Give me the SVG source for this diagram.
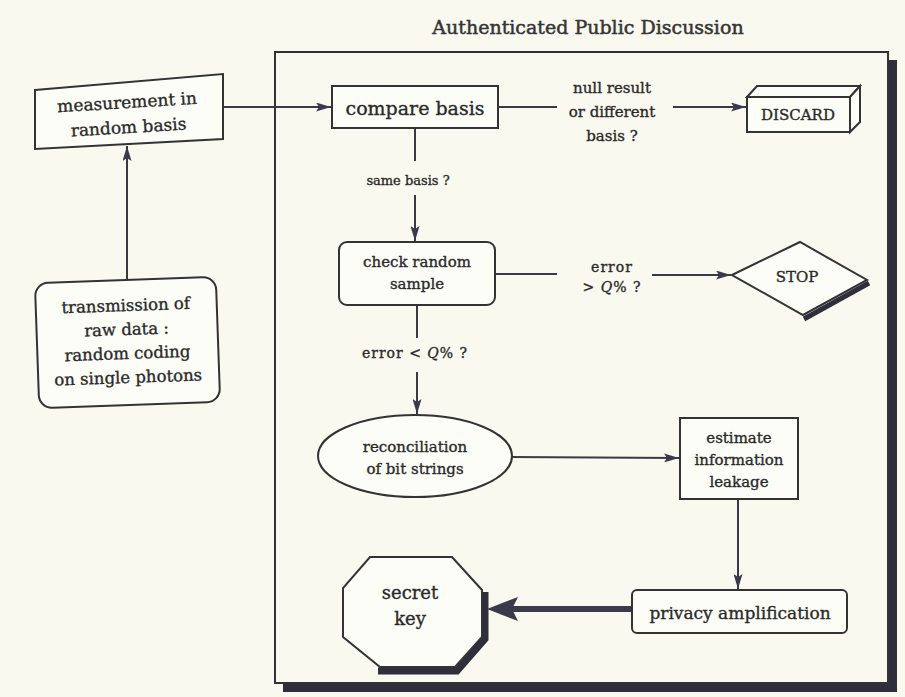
<svg xmlns="http://www.w3.org/2000/svg" width="905" height="697" viewBox="0 0 905 697">
  <defs>
    <marker id="arr" markerUnits="userSpaceOnUse" markerWidth="15" markerHeight="9" refX="15" refY="4.5" orient="auto">
      <path d="M0,0 L15,4.5 L0,9 L3,4.5 z" fill="#3a3a4c"/>
    </marker>
    <style>
      .bg { fill: #f9f9f0; }
      .box { fill: #fdfdf8; stroke: #333; stroke-width: 2; }
      .edge { fill: none; stroke: #3a3a42; stroke-width: 2; }
      .shadow { fill: none; stroke: #2e2e3c; }
      text { font-family: "DejaVu Serif", "Liberation Serif", serif; fill: #2a2a2a; stroke: #2a2a2a; stroke-width: 0.35; text-anchor: middle; }
      .lbl { font-size: 14px; }
      .n15 { font-size: 15px; }
      .n17 { font-size: 17px; }
    </style>
  </defs>

  <rect class="bg" x="0" y="0" width="905" height="697"/>

  <g id="frame">
    <rect x="283" y="60" width="614" height="632" fill="#2e2e3c"/>
    <rect x="275" y="52" width="613" height="631" fill="#f9f9f0" stroke="#333" stroke-width="2"/>
    <text x="588" y="34" style="font-size:19px; fill:#353535; stroke:#353535; stroke-width:0.5;">Authenticated Public Discussion</text>
  </g>

  <g id="connectors">
    <line class="edge" x1="127" y1="279" x2="127" y2="146" marker-end="url(#arr)"/>
    <line class="edge" x1="223" y1="107" x2="331" y2="107" marker-end="url(#arr)"/>
    <line class="edge" x1="498" y1="107" x2="557" y2="107"/>
    <line class="edge" x1="673" y1="107" x2="746" y2="107" marker-end="url(#arr)"/>
    <text class="lbl" x="612" y="93" style="font-size:15px;">null result</text>
    <text class="lbl" x="612" y="117" style="font-size:15px;">or different</text>
    <text class="lbl" x="612" y="141" style="font-size:15px;">basis ?</text>
    <line class="edge" x1="415" y1="128" x2="415" y2="161"/>
    <text class="lbl" x="408" y="185" style="font-size:13px;">same basis ?</text>
    <line class="edge" x1="415" y1="195" x2="415" y2="241" marker-end="url(#arr)"/>
    <line class="edge" x1="495" y1="274" x2="557" y2="274"/>
    <text class="lbl" x="612" y="272" letter-spacing="1">error</text>
    <text class="lbl" x="612" y="292" letter-spacing="1">&gt; <tspan font-style="italic">Q</tspan>% ?</text>
    <line class="edge" x1="652" y1="275" x2="731" y2="275" marker-end="url(#arr)"/>
    <line class="edge" x1="417" y1="305" x2="417" y2="338"/>
    <text class="lbl" x="415" y="358" letter-spacing="1">error &lt; <tspan font-style="italic">Q</tspan>% ?</text>
    <line class="edge" x1="417" y1="372" x2="417" y2="414" marker-end="url(#arr)"/>
    <line class="edge" x1="512" y1="457" x2="679" y2="458" marker-end="url(#arr)"/>
    <line class="edge" x1="738" y1="499" x2="738" y2="589" marker-end="url(#arr)"/>
    <line x1="632" y1="609" x2="510" y2="609" stroke="#3a3a4c" stroke-width="6"/>
    <polygon points="487,609 518,597 512,609 518,621" fill="#3a3a4c"/>
  </g>

  <g id="measurement">
    <polygon class="box" points="35,90 223,74 223,139 35,149"/>
    <g transform="rotate(-3.5 129 118)">
      <text class="n17" x="128" y="108">measurement in</text>
      <text class="n17" x="128" y="133">random basis</text>
    </g>
  </g>

  <g id="transmission" transform="rotate(-2 127 342)">
    <rect class="box" x="37" y="280" width="181" height="125" rx="13"/>
    <text x="127" y="311" style="font-size:16.5px;">transmission of</text>
    <text x="127" y="335" style="font-size:16.5px;">raw data :</text>
    <text x="127" y="359" style="font-size:16.5px;">random coding</text>
    <text x="127" y="383" style="font-size:16.5px;">on single photons</text>
  </g>

  <g id="compare">
    <rect class="box" x="332" y="86" width="166" height="42"/>
    <text x="415" y="115" style="font-size:19px;">compare basis</text>
  </g>

  <g id="discard">
    <polygon class="box" points="747,97 757,86 860,86 850,97"/>
    <polygon class="box" points="850,97 860,86 860,122 850,132"/>
    <rect class="box" x="747" y="97" width="103" height="35"/>
    <text x="798" y="120" style="font-size:15px;">DISCARD</text>
  </g>

  <g id="check">
    <rect class="box" x="339" y="242" width="156" height="63" rx="8"/>
    <text class="n15" x="417" y="267">check random</text>
    <text class="n15" x="417" y="289">sample</text>
  </g>

  <g id="stop">
    <polyline class="shadow" points="869,283 804,319" stroke-width="5"/>
    <polygon class="box" points="732,275 800,242 867,280 803,315"/>
    <text class="n15" x="797" y="282">STOP</text>
  </g>

  <g id="reconciliation">
    <ellipse class="box" cx="415" cy="456" rx="97" ry="41"/>
    <text class="n15" x="415" y="452">reconciliation</text>
    <text class="n15" x="415" y="474">of bit strings</text>
  </g>

  <g id="estimate">
    <rect class="box" x="680" y="418" width="118" height="81"/>
    <text class="n15" x="739" y="443">estimate</text>
    <text class="n15" x="739" y="465">information</text>
    <text class="n15" x="739" y="487">leakage</text>
  </g>

  <g id="privacy">
    <rect class="box" x="632" y="590" width="215" height="43" rx="5"/>
    <text class="n17" x="740" y="619">privacy amplification</text>
  </g>

  <g id="secret">
    <polyline class="shadow" points="485,592 485,639 457,671 378,671" stroke-width="7"/>
    <polygon class="box" points="370,557 452,557 482,590 482,637 455,667 380,667 343,637 343,588"/>
    <text x="410" y="599" style="font-size:18px;">secret</text>
    <text x="410" y="625" style="font-size:18px;">key</text>
  </g>
</svg>
